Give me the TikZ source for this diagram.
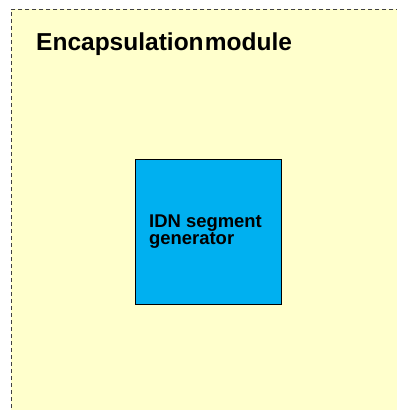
\documentclass[tikz,border=0pt]{standalone}
\usepackage{fontspec}
\setmainfont{Liberation Sans}
\definecolor{modyellow}{RGB}{255,255,204}
\definecolor{genblue}{RGB}{0,176,240}
\definecolor{framegray}{RGB}{64,64,64}
\usetikzlibrary{positioning}

\begin{document}
\begin{tikzpicture}[x=1bp,y=-1bp,
  modbox/.style={draw=framegray,line width=0.9bp,dash pattern=on 4bp off 3bp,fill=modyellow,minimum width=392bp,minimum height=410bp,inner sep=0pt},
  genbox/.style={draw=black,line width=0.9bp,fill=genblue,minimum width=146bp,minimum height=145bp,align=left,font=\fontsize{18.5}{17}\selectfont\bfseries}]
  \useasboundingbox (0,0) rectangle (397,410);
  \clip (0,0) rectangle (397,410);
  \node[modbox,anchor=north west] (module) at (11,9) {};
  \node[anchor=base west,inner sep=0pt,font=\fontsize{24.6}{24}\selectfont\bfseries] (title) at (36,50) {Encapsulation\hspace{1.2bp}module};
  \node[genbox] (gen) at (208,231.5) {IDN segment\hspace*{5bp}\\generator};
\end{tikzpicture}
\end{document}
